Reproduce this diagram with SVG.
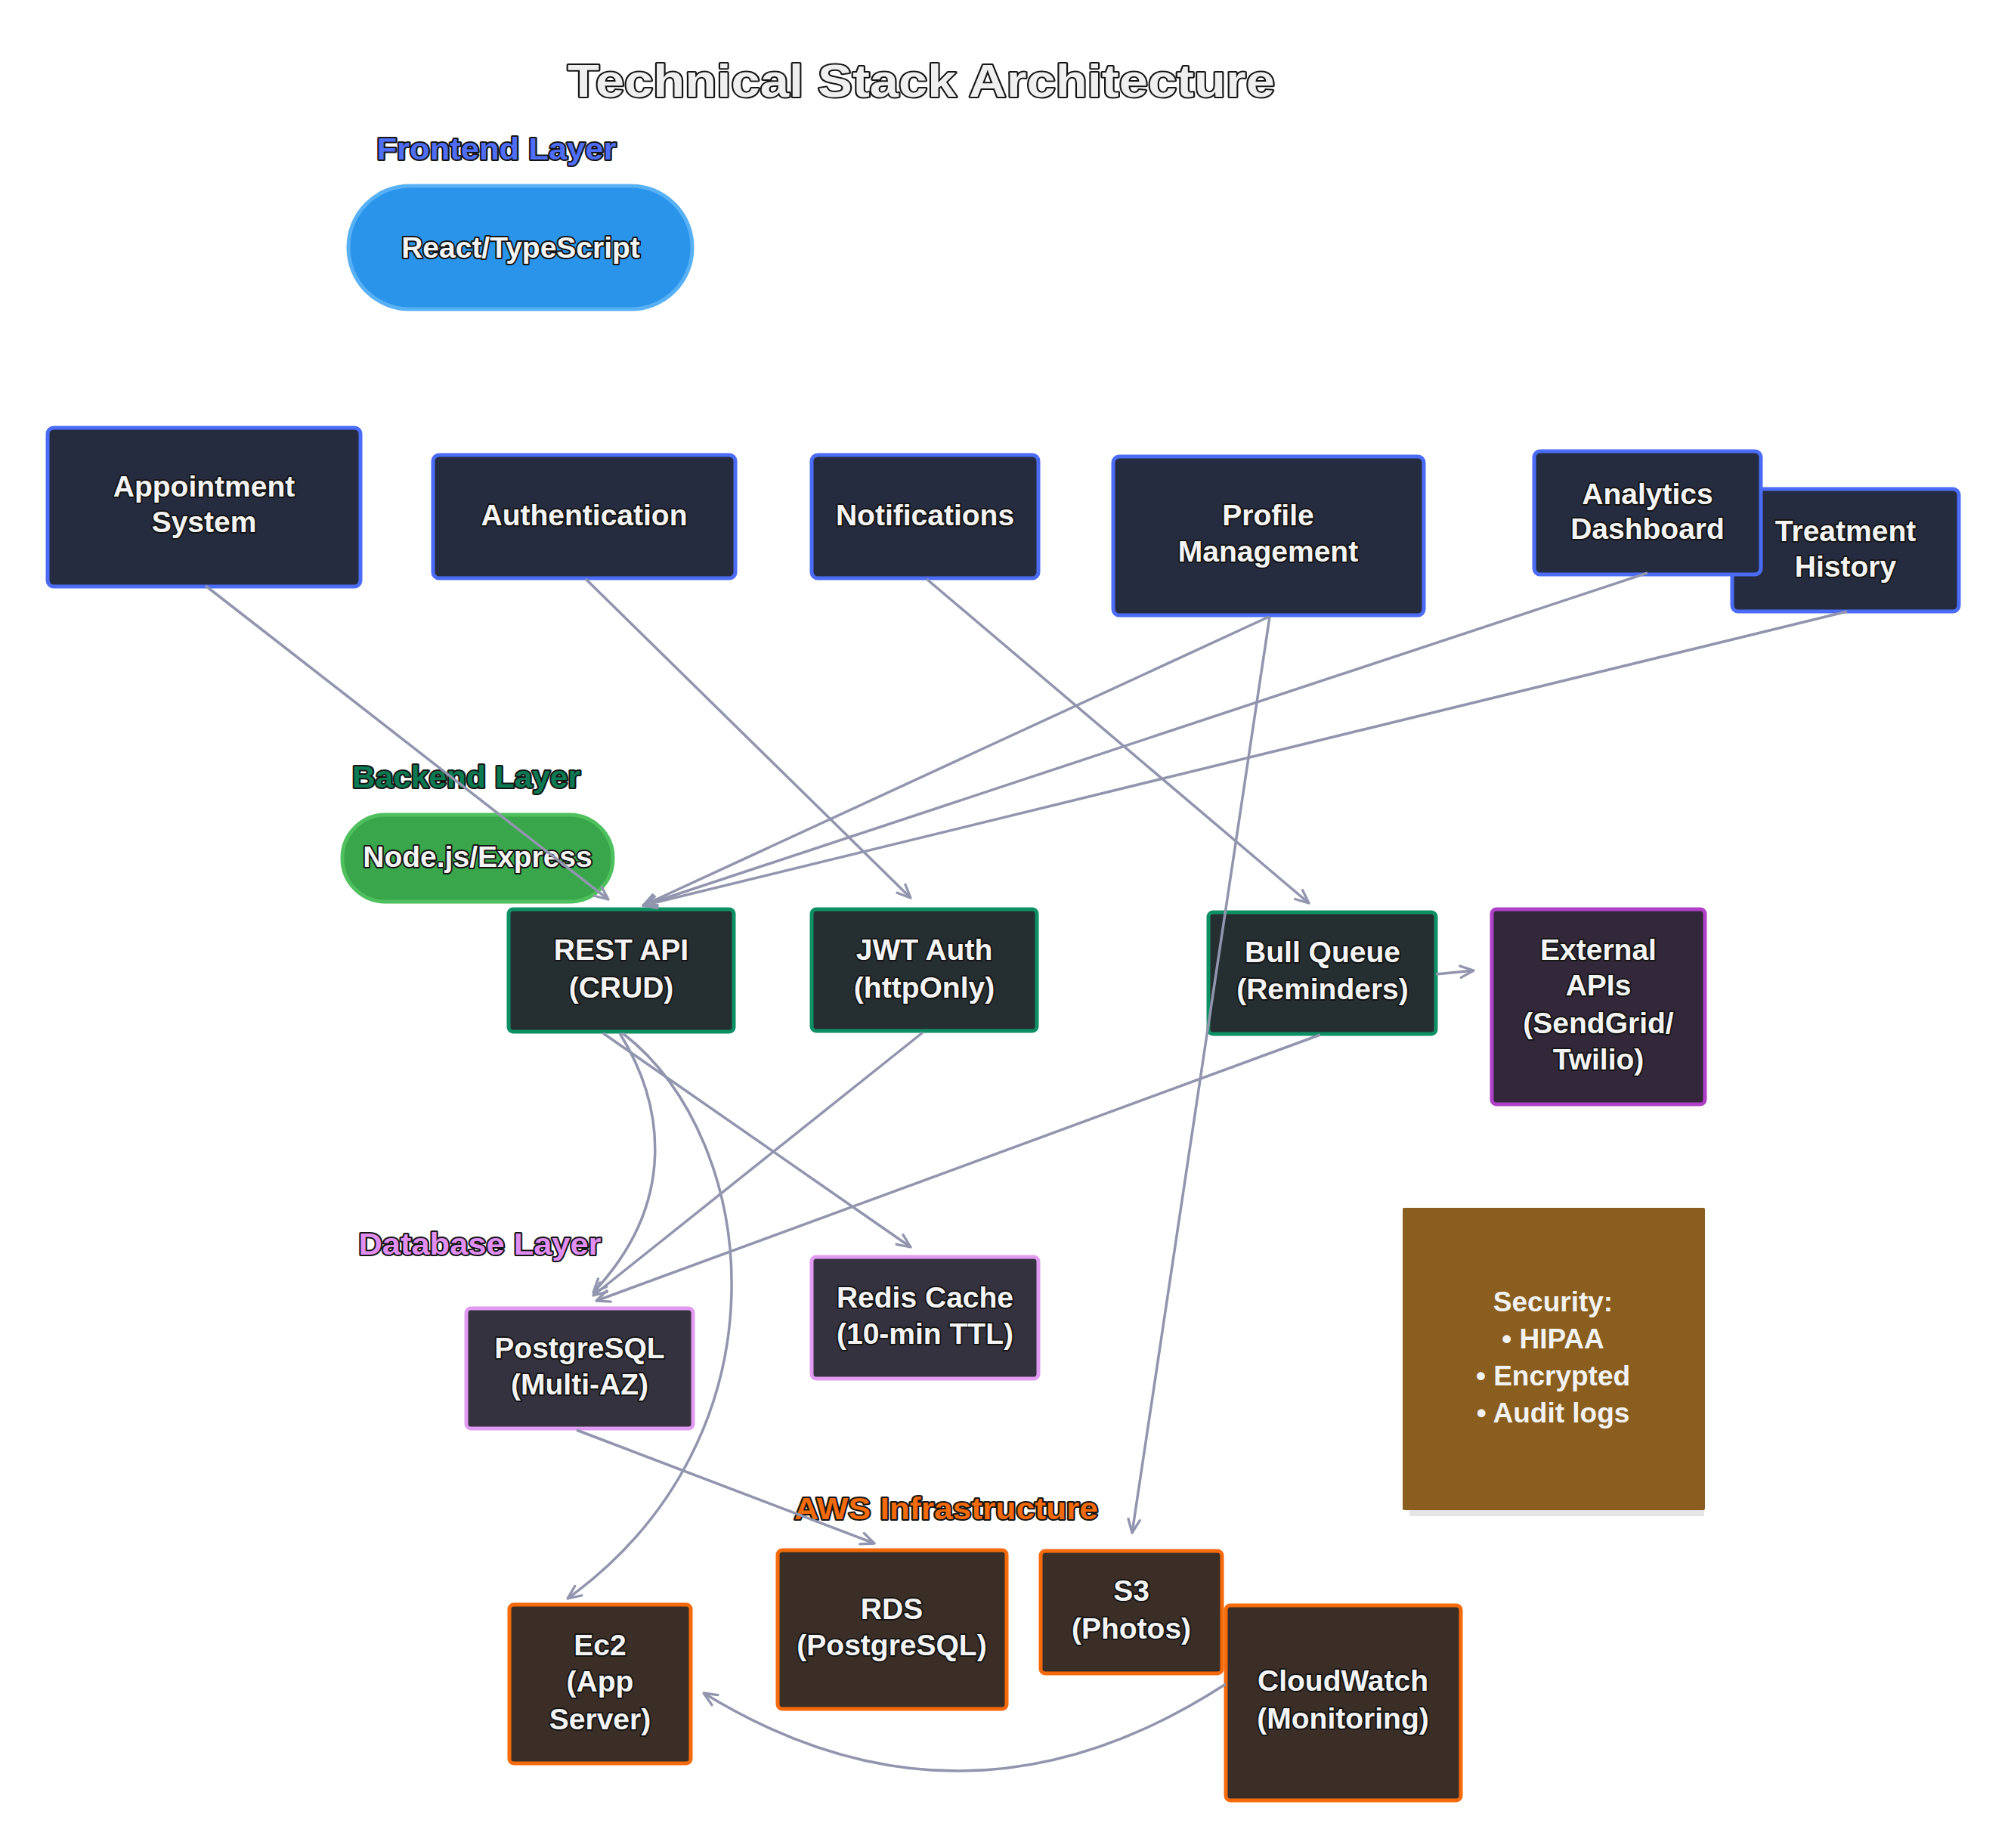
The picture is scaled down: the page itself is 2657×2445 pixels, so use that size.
<svg xmlns="http://www.w3.org/2000/svg" width="2657" height="2445" viewBox="0 0 2657 2445">
<defs>
<style>
text{font-family:"Liberation Sans",Arial,sans-serif;font-weight:bold;text-anchor:middle;}
.lbl{font-size:39px;fill:#f4f4f4;stroke:#151515;stroke-width:4px;paint-order:stroke;stroke-linejoin:round;}
.layer{font-size:40px;stroke:#151515;stroke-width:4px;paint-order:stroke;stroke-linejoin:round;}
.title{font-size:62px;fill:#efefef;stroke:#151515;stroke-width:4px;paint-order:stroke;stroke-linejoin:round;}
.fe{fill:#262c40;stroke:#4a6cf7;stroke-width:5;}
.be{fill:#252f31;stroke:#0e9065;stroke-width:5;}
.ext{fill:#33283a;stroke:#b040c8;stroke-width:5;}
.db{fill:#35323f;stroke:#e29bf2;stroke-width:5;}
.aws{fill:#3b2e26;stroke:#f56b0c;stroke-width:5;}
.edge{fill:none;stroke:#9195ae;stroke-width:3.5;marker-end:url(#arr);}
.sec{font-size:37px;fill:#f2f2f2;}
</style>
<marker id="arr" viewBox="0 0 20 20" refX="18" refY="10" markerWidth="22" markerHeight="22" markerUnits="userSpaceOnUse" orient="auto">
<path d="M2,3 L18,10 L2,17" fill="none" stroke="#9195ae" stroke-width="3" stroke-linecap="round" stroke-linejoin="round"/>
</marker>
</defs>
<rect width="2657" height="2445" fill="#ffffff"/>

<g id="title"><text class="title" x="1219" y="128" textLength="936" lengthAdjust="spacingAndGlyphs">Technical Stack Architecture</text></g>

<g id="frontend-layer-label"><text class="layer" x="657" y="211" fill="#4f6ef7" textLength="317" lengthAdjust="spacingAndGlyphs">Frontend Layer</text></g>
<g id="react"><rect x="461" y="246" width="455" height="163" rx="81" fill="#2a94ea" stroke="#58b0f5" stroke-width="5"/><text class="lbl" x="689" y="341">React/TypeScript</text></g>

<g id="appointment"><rect class="fe" x="63" y="566" width="414" height="210" rx="8"/><text class="lbl" x="270" y="657">Appointment</text><text class="lbl" x="270" y="704">System</text></g>
<g id="authentication"><rect class="fe" x="573" y="602" width="400" height="163" rx="8"/><text class="lbl" x="773" y="695">Authentication</text></g>
<g id="notifications"><rect class="fe" x="1074" y="602" width="300" height="163" rx="8"/><text class="lbl" x="1224" y="695">Notifications</text></g>
<g id="profile"><rect class="fe" x="1473" y="604" width="411" height="210" rx="8"/><text class="lbl" x="1678" y="695">Profile</text><text class="lbl" x="1678" y="743">Management</text></g>
<g id="treatment"><rect class="fe" x="2292" y="647" width="300" height="162" rx="8"/><text class="lbl" x="2442" y="716">Treatment</text><text class="lbl" x="2442" y="763">History</text></g>
<g id="analytics"><rect class="fe" x="2030" y="597" width="300" height="163" rx="8"/><text class="lbl" x="2180" y="667">Analytics</text><text class="lbl" x="2180" y="713">Dashboard</text></g>

<g id="backend-layer-label"><text class="layer" x="617" y="1042" fill="#0b7a52" textLength="302" lengthAdjust="spacingAndGlyphs">Backend Layer</text></g>
<g id="nodejs"><rect x="453" y="1078" width="358" height="115" rx="57" fill="#3aa64b" stroke="#4ec05d" stroke-width="5"/><text class="lbl" x="632" y="1147">Node.js/Express</text></g>
<g id="rest"><rect class="be" x="673" y="1203" width="298" height="162" rx="6"/><text class="lbl" x="822" y="1270">REST API</text><text class="lbl" x="822" y="1320">(CRUD)</text></g>
<g id="jwt"><rect class="be" x="1074" y="1203" width="298" height="161" rx="6"/><text class="lbl" x="1223" y="1270">JWT Auth</text><text class="lbl" x="1223" y="1320">(httpOnly)</text></g>
<g id="bull"><rect class="be" x="1599" y="1207" width="301" height="161" rx="6"/><text class="lbl" x="1750" y="1273">Bull Queue</text><text class="lbl" x="1750" y="1322">(Reminders)</text></g>
<g id="external"><rect class="ext" x="1974" y="1203" width="282" height="258" rx="6"/><text class="lbl" x="2115" y="1270">External</text><text class="lbl" x="2115" y="1317">APIs</text><text class="lbl" x="2115" y="1367">(SendGrid/</text><text class="lbl" x="2115" y="1415">Twilio)</text></g>

<g id="security"><rect x="1865" y="1608" width="390" height="398" fill="#e5e5e5"/><rect x="1856" y="1598" width="400" height="400" rx="2" fill="#8a5e1e"/><text class="sec" x="2055" y="1735">Security:</text><text class="sec" x="2055" y="1784">• HIPAA</text><text class="sec" x="2055" y="1833">• Encrypted</text><text class="sec" x="2055" y="1882">• Audit logs</text></g>

<g id="database-layer-label"><text class="layer" x="635" y="1660" fill="#e08ef2" textLength="321" lengthAdjust="spacingAndGlyphs">Database Layer</text></g>
<g id="postgres"><rect class="db" x="617" y="1731" width="300" height="159" rx="6"/><text class="lbl" x="767" y="1797">PostgreSQL</text><text class="lbl" x="767" y="1845">(Multi-AZ)</text></g>
<g id="redis"><rect class="db" x="1074" y="1663" width="300" height="161" rx="6"/><text class="lbl" x="1224" y="1730">Redis Cache</text><text class="lbl" x="1224" y="1778">(10-min TTL)</text></g>

<g id="aws-layer-label"><text class="layer" x="1252" y="2010" fill="#f26a0a" textLength="402" lengthAdjust="spacingAndGlyphs">AWS Infrastructure</text></g>
<g id="ec2"><rect class="aws" x="674" y="2123" width="240" height="210" rx="6"/><text class="lbl" x="794" y="2190">Ec2</text><text class="lbl" x="794" y="2238">(App</text><text class="lbl" x="794" y="2288">Server)</text></g>
<g id="rds"><rect class="aws" x="1029" y="2051" width="303" height="210" rx="6"/><text class="lbl" x="1180" y="2142">RDS</text><text class="lbl" x="1180" y="2190">(PostgreSQL)</text></g>
<g id="s3"><rect class="aws" x="1377" y="2052" width="240" height="162" rx="6"/><text class="lbl" x="1497" y="2118">S3</text><text class="lbl" x="1497" y="2168">(Photos)</text></g>
<g id="cloudwatch"><rect class="aws" x="1622" y="2124" width="311" height="258" rx="6"/><text class="lbl" x="1777" y="2237">CloudWatch</text><text class="lbl" x="1777" y="2287">(Monitoring)</text></g>

<g id="connectors">
<path class="edge" d="M 272 775 L 805 1190"/>
<path class="edge" d="M 775 766 L 1205 1188"/>
<path class="edge" d="M 1226 766 L 1732 1195"/>
<path class="edge" d="M 1679 816 L 851 1198"/>
<path class="edge" d="M 2180 758 L 851 1198"/>
<path class="edge" d="M 2444 809 L 851 1198"/>
<path class="edge" d="M 1680 816 L 1498 2028"/>
<path class="edge" d="M 1900 1289 L 1950 1284"/>
<path class="edge" d="M 1747 1369 L 789 1721"/>
<path class="edge" d="M 1221 1366 L 785 1714"/>
<path class="edge" d="M 820 1367 C 878 1460, 898 1590, 785 1710"/>
<path class="edge" d="M 798 1367 L 1205 1650"/>
<path class="edge" d="M 824 1367 C 1008 1510, 1048 1900, 751 2115"/>
<path class="edge" d="M 763 1892 L 1157 2042"/>
<path class="edge" d="M 1622 2228 Q 1277 2452 931 2240"/>
</g>
</svg>
